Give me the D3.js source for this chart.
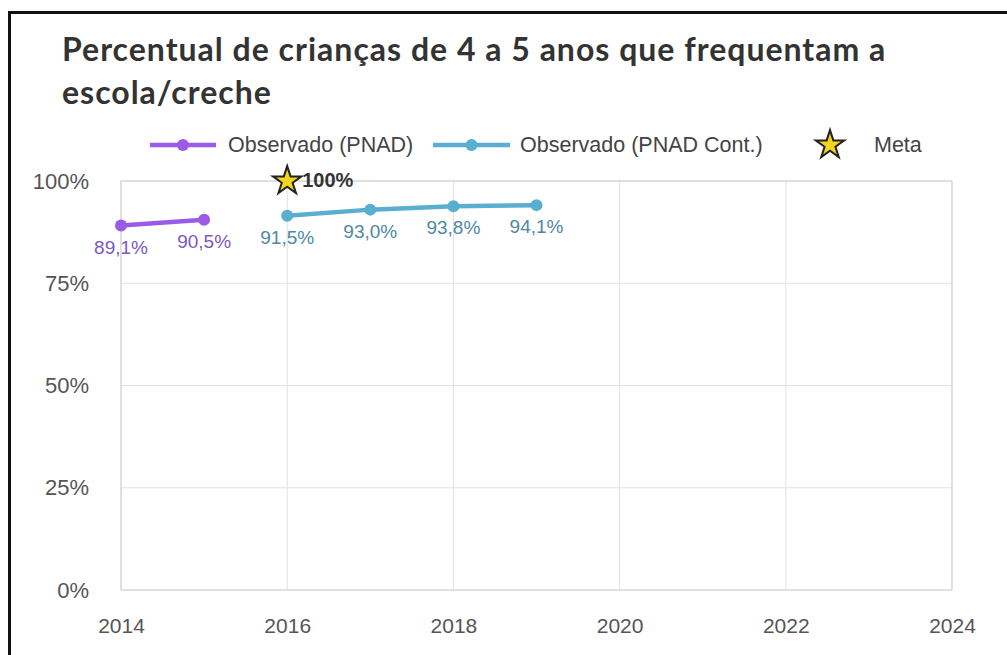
<!DOCTYPE html>
<html lang="pt">
<head>
  <meta charset="UTF-8">
  <title>Percentual de crianças de 4 a 5 anos</title>
  <script src="https://d3js.org/d3.v7.min.js"></script>
  <style>
    body { margin: 0; background: #fff; }
    svg { display: block; }
  </style>
</head>
<body>
  <svg id="chart" width="1007" height="655"></svg>
  <script>
    // Data
    const yearsPnad = [2014, 2015];
    const valuesPnad = [89.1, 90.5];
    const yearsCont = [2016, 2017, 2018, 2019];
    const valuesCont = [91.5, 93.0, 93.8, 94.1];
    const metaYear = [2016];
    const metaValue = [100];
    const xTicks = [2014, 2016, 2018, 2020, 2022, 2024];
    const yTicks = [0, 25, 50, 75, 100];

    const purple = "#9a5ce6", blue = "#5aaecf";
    const font = "'Liberation Sans', Arial, sans-serif";
    const margin = { top: 181, right: 55, bottom: 65, left: 121 };
    const width = 952 - margin.left, height = 590 - margin.top;

    const svg = d3.select("#chart");
    svg.append("rect").attr("width", 1007).attr("height", 655).attr("fill", "#fff");
    // black frame (only top & left visible)
    svg.append("path").attr("d", "M9.5,700 V12.5 H1007")
      .attr("fill", "none").attr("stroke", "#111").attr("stroke-width", 3);

    // Title
    const title = svg.append("text")
      .style("font-family", "Lato, 'Open Sans', sans-serif").style("font-weight", 700)
      .style("font-size", "32px").style("letter-spacing", "1px").attr("fill", "#333");
    title.append("tspan").attr("x", 62).attr("y", 61)
      .text("Percentual de crianças de 4 a 5 anos que frequentam a");
    title.append("tspan").attr("x", 62).attr("y", 104).text("escola/creche");

    const g = svg.append("g").attr("transform", `translate(${margin.left},${margin.top})`);

    const x = d3.scaleLinear().domain([2014, 2024]).range([0, width]);
    const y = d3.scaleLinear().domain([0, 100]).range([height, 0]);

    // grid
    g.append("g").selectAll("line").data(yTicks).join("line")
      .attr("x1", 0).attr("x2", width).attr("y1", d => y(d)).attr("y2", d => y(d))
      .attr("stroke", "#e2e2e2");
    g.append("g").selectAll("line").data(xTicks).join("line")
      .attr("y1", 0).attr("y2", height).attr("x1", d => x(d)).attr("x2", d => x(d))
      .attr("stroke", "#e2e2e2");
    g.append("rect").attr("width", width).attr("height", height)
      .attr("fill", "none").attr("stroke", "#d0d0d0");

    // axes
    const yAxis = g.append("g")
      .call(d3.axisLeft(y).tickValues(yTicks).tickFormat(d => d + "%").tickSize(0).tickPadding(32));
    const xAxis = g.append("g").attr("transform", `translate(0,${height})`)
      .call(d3.axisBottom(x).tickValues(xTicks).tickFormat(d3.format("d")).tickSize(0).tickPadding(28));
    [xAxis, yAxis].forEach(a => {
      a.select(".domain").remove();
      a.selectAll("text").style("font-family", font).attr("fill", "#555");
    });
    yAxis.selectAll("text").style("font-size", "22px");
    xAxis.selectAll("text").style("font-size", "21px");

    const fmt = v => v.toFixed(1).replace(".", ",") + "%";
    const line = d3.line().x(d => x(d[0])).y(d => y(d[1]));

    function series(years, values, color, labelColor) {
      const data = years.map((yr, i) => [yr, values[i]]);
      g.append("path").datum(data).attr("d", line)
        .attr("fill", "none").attr("stroke", color).attr("stroke-width", 4.5);
      g.append("g").selectAll("circle").data(data).join("circle")
        .attr("cx", d => x(d[0])).attr("cy", d => y(d[1])).attr("r", 6).attr("fill", color);
      g.append("g").selectAll("text").data(data).join("text")
        .attr("x", d => x(d[0])).attr("y", d => y(d[1]) + 28)
        .attr("text-anchor", "middle")
        .style("font-family", font).style("font-size", "19px")
        .attr("fill", labelColor).text(d => fmt(d[1]));
    }
    series(yearsPnad, valuesPnad, purple, "#7d59bf");
    series(yearsCont, valuesCont, blue, "#4c8aa3");

    // star symbol
    const star = d3.symbol().type(d3.symbolStar).size(250);
    const metaData = metaYear.map((yr, i) => [yr, metaValue[i]]);
    g.append("g").selectAll("path").data(metaData).join("path")
      .attr("d", star).attr("transform", d => `translate(${x(d[0])},${y(d[1])})`)
      .attr("fill", "#f3d51b").attr("stroke", "#222").attr("stroke-width", 2);
    g.append("g").selectAll("text").data(metaData).join("text")
      .attr("x", d => x(d[0]) + 15).attr("y", d => y(d[1]) + 6)
      .style("font-family", font).style("font-size", "20px")
      .style("font-weight", "bold").attr("fill", "#333").text(d => d[1] + "%");

    // legend
    const leg = svg.append("g");
    const items = [
      { type: "line", color: purple, x0: 150, x1: 216, tx: 228, label: "Observado (PNAD)" },
      { type: "line", color: blue, x0: 433, x1: 510, tx: 520, label: "Observado (PNAD Cont.)" },
      { type: "star", x0: 830, tx: 874, label: "Meta" }
    ];
    const ly = 145;
    items.forEach(it => {
      if (it.type === "line") {
        leg.append("line").attr("x1", it.x0).attr("x2", it.x1).attr("y1", ly).attr("y2", ly)
          .attr("stroke", it.color).attr("stroke-width", 4.5);
        leg.append("circle").attr("cx", (it.x0 + it.x1) / 2).attr("cy", ly).attr("r", 6).attr("fill", it.color);
      } else {
        leg.append("path").attr("d", star).attr("transform", `translate(${it.x0},${ly})`)
          .attr("fill", "#f3d51b").attr("stroke", "#222").attr("stroke-width", 2);
      }
      leg.append("text").attr("x", it.tx).attr("y", ly + 7)
        .style("font-family", font).style("font-size", "21.5px").attr("fill", "#444").text(it.label);
    });
  </script>
</body>
</html>
